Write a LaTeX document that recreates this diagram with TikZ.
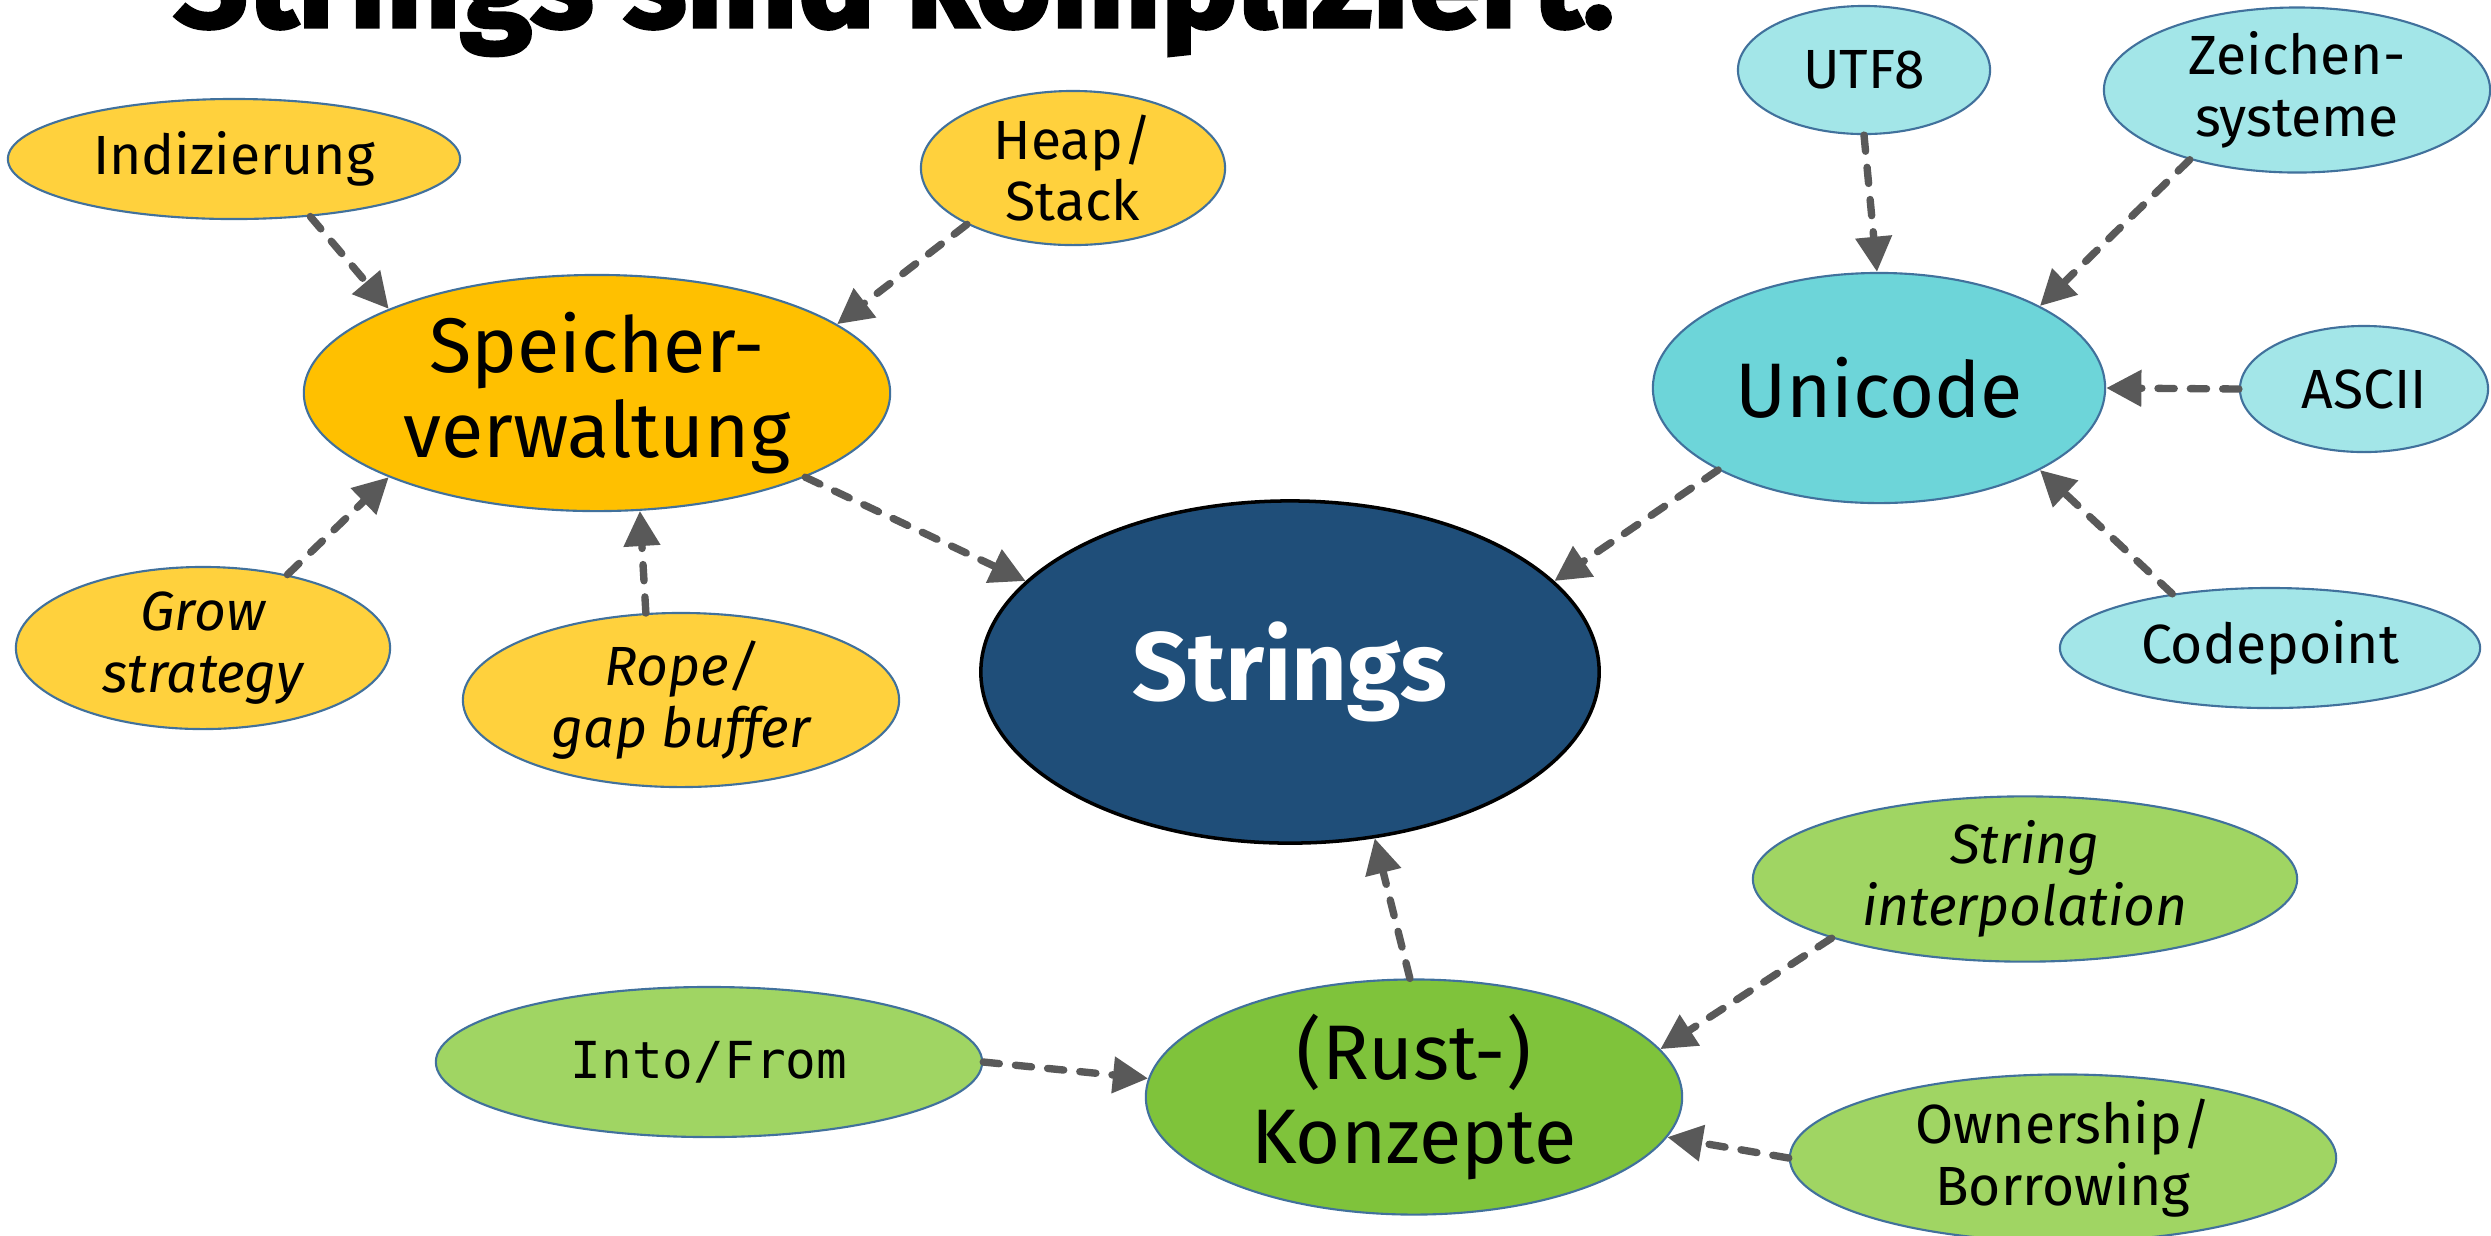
\documentclass[tikz,border=0pt]{standalone}
\usepackage{fontspec}
\setmainfont{Fira Sans}
\setmonofont{DejaVu Sans Mono}
\newfontfamily\titlefont[BoldFeatures={FakeBold=2.5}]{Fira Sans}
\usetikzlibrary{shapes.geometric,arrows.meta}
\definecolor{bord}{HTML}{41719C}
\definecolor{spc}{HTML}{FFC000}
\definecolor{ylw}{HTML}{FFD13D}
\definecolor{strc}{HTML}{1F4E79}
\definecolor{unic}{HTML}{6DD5D9}
\definecolor{cyn}{HTML}{A3E6E8}
\definecolor{rustc}{HTML}{7FC33B}
\definecolor{grn}{HTML}{A0D563}
\definecolor{arrc}{HTML}{595959}
\begin{document}
\begin{tikzpicture}[x=0.01cm,y=-0.01cm,
  ell/.style={ellipse, draw=bord, line width=0.6pt, inner sep=0pt, align=center},
  bignode/.style={ell, font=\fontsize{22}{24}\selectfont},
  smallnode/.style={ell, font=\fontsize{15.7}{17.6}\selectfont},
  smallit/.style={smallnode, font=\fontsize{15.7}{17.6}\selectfont\itshape},
  arr/.style={draw=arrc, line width=2.1pt, dash pattern=on 4.6pt off 4.6pt, line cap=round,
    -{Triangle[length=10pt,width=10pt]}}]
\fill[white] (0,0) rectangle (2491,1235);
\useasboundingbox (0,0) rectangle (2491,1235);

\node[anchor=base west, inner sep=0pt, font=\titlefont\bfseries\fontsize{36.8}{40}\selectfont] (title) at (173,27) {Strings sind kompliziert.};

% Speicherverwaltung cluster
\node[bignode, fill=spc, minimum width=5.86cm, minimum height=2.36cm] (sp) at (597,393) {Speicher-\\verwaltung};
\node[smallnode, fill=ylw, minimum width=4.52cm, minimum height=1.20cm] (ind) at (234,159) {Indizierung};
\node[smallnode, fill=ylw, minimum width=3.04cm, minimum height=1.54cm] (heap) at (1073,168) {Heap/\\Stack};
\node[smallit, fill=ylw, minimum width=3.74cm, minimum height=1.62cm] (grow) at (203,648) {Grow\\strategy};
\node[smallit, fill=ylw, minimum width=4.36cm, minimum height=1.74cm] (rope) at (681,700) {Rope/\\gap buffer};

% Strings
\node[ellipse, draw=black, line width=1pt, fill=strc, text=white, inner sep=0pt,
  minimum width=6.18cm, minimum height=3.42cm, font=\fontsize{27.6}{30}\selectfont\bfseries] (str) at (1290,672) {Strings};

% Unicode cluster
\node[bignode, fill=unic, minimum width=4.52cm, minimum height=2.30cm] (uni) at (1879,388) {Unicode};
\node[smallnode, fill=cyn, minimum width=2.52cm, minimum height=1.28cm] (utf) at (1864,70) {UTF8};
\node[smallnode, fill=cyn, minimum width=3.86cm, minimum height=1.46cm] (zei) at (2297,90) {Zeichen-\\systeme};
\node[smallnode, fill=cyn, minimum width=2.48cm, minimum height=1.26cm] (ascii) at (2364,389) {ASCII};
\node[smallnode, fill=cyn, minimum width=4.20cm, minimum height=1.20cm] (code) at (2270,648) {Codepoint};

% Rust cluster
\node[bignode, fill=rustc, minimum width=5.36cm, minimum height=2.10cm] (rust) at (1414,1097) {(Rust-)\\Konzepte};
\node[smallnode, fill=grn, minimum width=5.46cm, minimum height=1.50cm, font=\fontsize{14.5}{16}\ttfamily] (into) at (709,1062) {Into/From};
\node[smallit, fill=grn, minimum width=5.44cm, minimum height=1.64cm] (interp) at (2025,879) {String\\interpolation};
\node[smallnode, fill=grn, minimum width=5.46cm, minimum height=1.46cm] (own) at (2063,1158) {Ownership/\\Borrowing};

% connectors
\draw[arr] (ind.-37) -- (sp.158);
\draw[arr] (heap.-152) -- (sp.16);
\draw[arr] (grow.41) -- (sp.-158);
\draw[arr] (rope.112) -- (sp.-70.5);
\draw[arr] (sp.-22) -- (str.161);
\draw[arr] (utf.-90) -- (uni.91);
\draw[arr] (zei.-147) -- (uni.27);
\draw[arr] (ascii.180) -- (uni.0);
\draw[arr] (code.151) -- (uni.-27);
\draw[arr] (uni.-153.5) -- (str.19.6);
\draw[arr] (rust.92) -- (str.-63);
\draw[arr] (into.0) -- (rust.176.4);
\draw[arr] (interp.-163) -- (rust.11.3);
\draw[arr] (own.180) -- (rust.-9.8);
\end{tikzpicture}
\end{document}
